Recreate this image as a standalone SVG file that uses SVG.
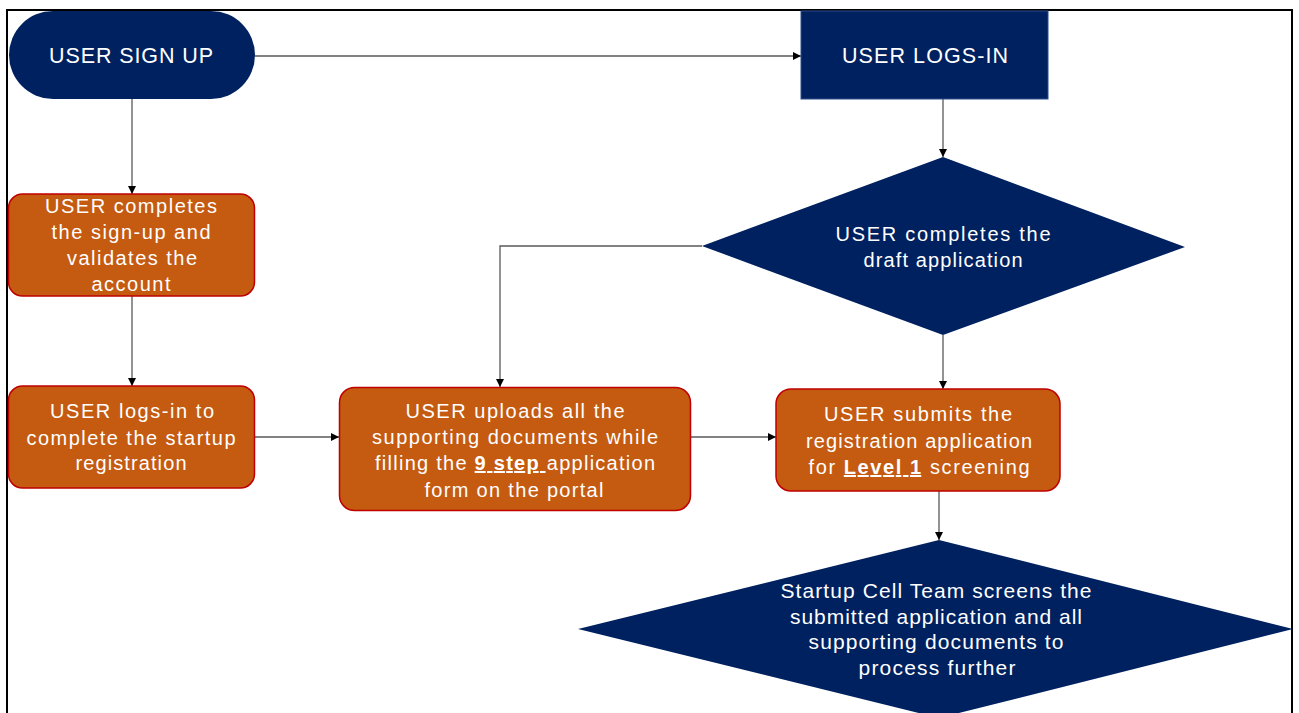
<svg xmlns="http://www.w3.org/2000/svg" width="1299" height="713" viewBox="0 0 1299 713">
  <defs>
    <marker id="arrow" viewBox="0 0 10 10" refX="10" refY="5" markerWidth="8" markerHeight="8" markerUnits="userSpaceOnUse" orient="auto">
      <path d="M0,0 L10,5 L0,10 Z" fill="#000000"/>
    </marker>
    <style>
      .navy { fill: #00215F; }
      .navy-box { fill: #00215F; stroke: #2F4F8F; stroke-width: 1; }
      .step { fill: #C55A11; stroke: #C00000; stroke-width: 1.5; }
      .lbl { font-family: "Liberation Sans", Arial, sans-serif; fill: #FFFFFF; text-anchor: middle; font-size: 20px; }
      .lbl-lg { font-size: 21.5px; }
      .lbl-nar { font-size: 21px; }
      .em { font-weight: bold; text-decoration: underline; }
      .wire { fill: none; stroke: #595959; stroke-width: 1.3; marker-end: url(#arrow); }
    </style>
  </defs>

  <rect width="1299" height="713" fill="#FFFFFF"/>
  <!-- page frame -->
  <rect x="7" y="10" width="1285" height="712" fill="none" stroke="#000000" stroke-width="2"/>

  <g id="connectors">
    <path class="wire" d="M255,56 H801"/>
    <path class="wire" d="M132,99 V194"/>
    <path class="wire" d="M132,296 V386"/>
    <path class="wire" d="M255,437 H339"/>
    <path class="wire" d="M691,437 H776"/>
    <path class="wire" d="M943,99 V157"/>
    <path class="wire" d="M702,246 H500 V387"/>
    <path class="wire" d="M943,335 V389"/>
    <path class="wire" d="M939,491 V540"/>
  </g>

  <g id="user-sign-up">
    <rect class="navy" x="9" y="11" width="246" height="88" rx="44" ry="44"/>
    <text class="lbl lbl-lg" x="131" y="63" textLength="164" lengthAdjust="spacing">USER SIGN UP</text>
  </g>

  <g id="user-logs-in">
    <rect class="navy-box" x="801" y="11" width="247" height="88"/>
    <text class="lbl lbl-lg" x="925" y="63" textLength="166" lengthAdjust="spacing">USER LOGS-IN</text>
  </g>

  <g id="complete-sign-up">
    <rect class="step" x="8.5" y="194" width="246" height="102" rx="14" ry="14"/>
    <text class="lbl" x="131" y="213" textLength="172" lengthAdjust="spacing">USER completes</text>
    <text class="lbl" x="131" y="239" textLength="159" lengthAdjust="spacing">the sign-up and</text>
    <text class="lbl" x="132" y="265" textLength="130" lengthAdjust="spacing">validates the</text>
    <text class="lbl" x="131" y="291" textLength="79" lengthAdjust="spacing">account</text>
  </g>

  <g id="logs-in-registration">
    <rect class="step" x="8.5" y="386" width="246" height="102" rx="14" ry="14"/>
    <text class="lbl" x="132" y="418" textLength="164" lengthAdjust="spacing">USER logs-in to</text>
    <text class="lbl" x="131" y="445" textLength="209" lengthAdjust="spacing">complete the startup</text>
    <text class="lbl" x="131" y="470" textLength="111" lengthAdjust="spacing">registration</text>
  </g>

  <g id="upload-documents">
    <rect class="step" x="339.5" y="387.5" width="351" height="123" rx="15" ry="15"/>
    <text class="lbl" x="515" y="418" textLength="219" lengthAdjust="spacing">USER uploads all the</text>
    <text class="lbl" x="515" y="444" textLength="286" lengthAdjust="spacing">supporting documents while</text>
    <text class="lbl" x="515" y="470" textLength="280" lengthAdjust="spacing">filling the <tspan class="em">9 step </tspan>application</text>
    <text class="lbl" x="514" y="497" textLength="179" lengthAdjust="spacing">form on the portal</text>
  </g>

  <g id="submit-application">
    <rect class="step" x="776" y="389" width="284" height="102" rx="15" ry="15"/>
    <text class="lbl" x="918" y="421" textLength="188" lengthAdjust="spacing">USER submits the</text>
    <text class="lbl" x="919" y="448" textLength="226" lengthAdjust="spacing">registration application</text>
    <text class="lbl" x="919" y="474" textLength="221" lengthAdjust="spacing">for <tspan class="em">Level 1</tspan> screening</text>
  </g>

  <g id="draft-application">
    <polygon class="navy" points="943,157 1185,247 943,335 702,246"/>
    <text class="lbl" x="943" y="241" textLength="215" lengthAdjust="spacing">USER completes the</text>
    <text class="lbl" x="943" y="267" textLength="159" lengthAdjust="spacing">draft application</text>
  </g>

  <g id="screening">
    <polygon class="navy" points="939,540 1293,629 939,718 578,629"/>
    <text class="lbl lbl-nar" x="936" y="598" textLength="311" lengthAdjust="spacing">Startup Cell Team screens the</text>
    <text class="lbl lbl-nar" x="936" y="624" textLength="292" lengthAdjust="spacing">submitted application and all</text>
    <text class="lbl lbl-nar" x="936" y="649" textLength="255" lengthAdjust="spacing">supporting documents to</text>
    <text class="lbl lbl-nar" x="937" y="675" textLength="157" lengthAdjust="spacing">process further</text>
  </g>
</svg>
